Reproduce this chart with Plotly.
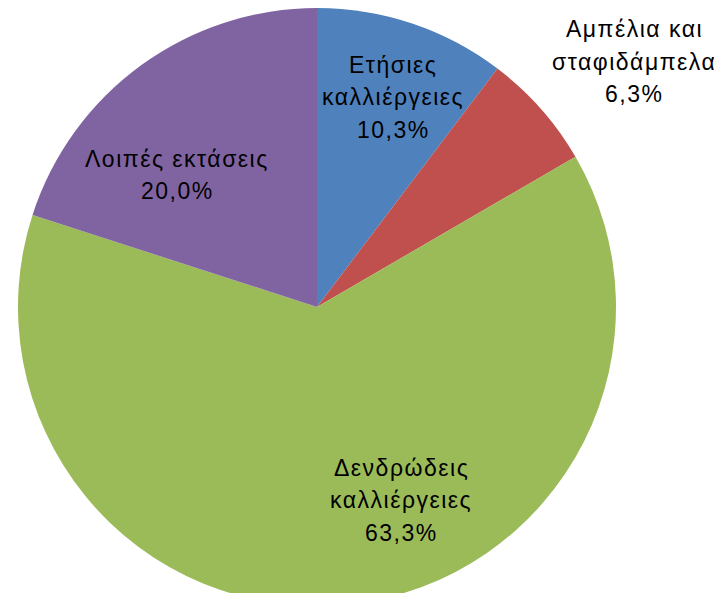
import plotly.graph_objects as go

# ---- data ----
categories = [
    "Ετήσιες καλλιέργειες",
    "Αμπέλια και σταφιδάμπελα",
    "Δενδρώδεις καλλιέργειες",
    "Λοιπές εκτάσεις",
]
label_lines = [
    ["Ετήσιες", "καλλιέργειες"],
    ["Αμπέλια και", "σταφιδάμπελα"],
    ["Δενδρώδεις", "καλλιέργειες"],
    ["Λοιπές εκτάσεις"],
]
values = [10.3, 6.3, 63.3, 20.0]
colors = ["#4F81BD", "#C0504D", "#9BBB59", "#8064A2"]

# ---- layout helpers ----
PAGE_MARGIN = 8                    # default <body> margin of the html page
W, H = 714, 598
CX, CY, R = 317 - PAGE_MARGIN, 307 - PAGE_MARGIN, 299   # pie centre / radius, px
FS = 23
FONT = "Liberation Sans, Arial, sans-serif"
# label block anchor (centre x, first-line middle y) on screen, px
label_pos = [(393, 65), (634, 29), (401, 468), (177, 159)]
LINE_GAP = 32.5


def fmt_pct(v):
    return f"{v:.1f}".replace(".", ",") + "%"


fig = go.Figure(
    go.Pie(
        labels=categories,
        values=values,
        sort=False,
        direction="clockwise",
        rotation=0,
        marker=dict(colors=colors, line=dict(width=0)),
        textinfo="none",
        hoverinfo="label+percent",
        showlegend=False,
        domain=dict(
            x=[(CX - R) / W, (CX + R) / W],
            y=[(H - CY - R) / H, (H - CY + R) / H],
        ),
    )
)

annotations = []
for lines, v, (lx, ly) in zip(label_lines, values, label_pos):
    for i, t in enumerate(lines + [fmt_pct(v)]):
        annotations.append(
            dict(
                text=f'<span style="letter-spacing:1.5px">{t}</span>',
                x=(lx - PAGE_MARGIN) / W,
                y=(H - (ly - PAGE_MARGIN + i * LINE_GAP)) / H,
                xref="paper",
                yref="paper",
                xanchor="center",
                yanchor="middle",
                showarrow=False,
                font=dict(family=FONT, size=FS, color="#000000"),
            )
        )

fig.update_layout(
    width=W,
    height=H,
    margin=dict(l=0, r=0, t=0, b=0),
    paper_bgcolor="white",
    plot_bgcolor="white",
    annotations=annotations,
)

fig.write_html("out.html")
